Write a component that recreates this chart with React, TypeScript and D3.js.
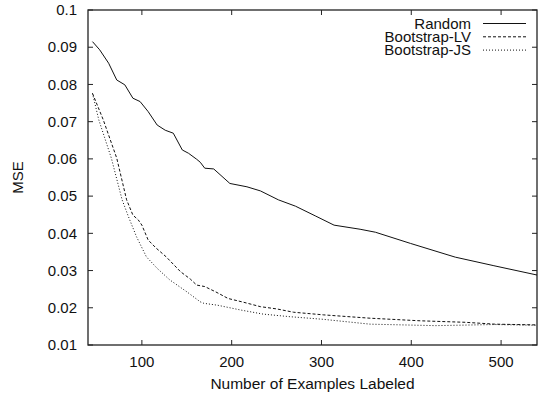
import React from "react";
import * as d3 from "d3";

const xTicks = [100, 200, 300, 400, 500];
const yTicks = [0.01, 0.02, 0.03, 0.04, 0.05, 0.06, 0.07, 0.08, 0.09, 0.1];
const yTickLabels = ["0.01", "0.02", "0.03", "0.04", "0.05", "0.06", "0.07", "0.08", "0.09", "0.1"];

const randomN = [45, 53, 63, 72, 81, 90, 98, 107, 117, 126, 135, 145, 152, 161, 165, 170, 180, 198, 217, 232, 252, 271, 293, 314, 343, 360, 399, 449, 492, 540];
const randomV = [0.0915, 0.0893, 0.0857, 0.0812, 0.0799, 0.0763, 0.0754, 0.0727, 0.0691, 0.0677, 0.0669, 0.0624, 0.0615, 0.0599, 0.0591, 0.0575, 0.0573, 0.0534, 0.0525, 0.0514, 0.049, 0.0473, 0.0447, 0.0422, 0.0411, 0.0403, 0.0373, 0.0336, 0.0313, 0.0288];

const lvN = [45, 57, 72, 83, 90, 96, 100, 107, 116, 127, 143, 154, 161, 170, 182, 196, 213, 232, 250, 269, 302, 354, 410, 460, 493, 540];
const lvV = [0.0776, 0.0705, 0.0602, 0.049, 0.0449, 0.0436, 0.0422, 0.0382, 0.036, 0.0337, 0.0297, 0.0277, 0.0261, 0.0257, 0.0243, 0.0225, 0.0215, 0.0203, 0.0197, 0.0188, 0.0181, 0.0172, 0.0165, 0.0161, 0.0156, 0.0154];

const jsN = [45, 52, 66, 78, 85, 94, 105, 117, 131, 150, 165, 169, 184, 210, 235, 265, 302, 354, 427, 493, 540];
const jsV = [0.0776, 0.0705, 0.0602, 0.049, 0.0445, 0.0391, 0.0337, 0.0306, 0.0275, 0.0243, 0.0216, 0.0212, 0.0207, 0.0194, 0.0183, 0.0176, 0.0169, 0.0156, 0.0152, 0.0155, 0.0153];

const seriesNames = ["Random", "Bootstrap-LV", "Bootstrap-JS"];

const W = 539;
const H = 397;
const L = 88;
const R = 537;
const T = 10;
const B = 345;

export default function App() {
  const x = d3.scaleLinear().domain([40, 540]).range([L, R]);
  const y = d3.scaleLinear().domain([0.01, 0.1]).range([B, T]);
  const line = d3
    .line<[number, number]>()
    .x((d) => x(d[0]))
    .y((d) => y(d[1]));
  const mk = (n: number[], v: number[]) => n.map((d, i) => [d, v[i]] as [number, number]);
  const series = [
    { name: seriesNames[0], pts: mk(randomN, randomV), dash: "none" },
    { name: seriesNames[1], pts: mk(lvN, lvV), dash: "3,2" },
    { name: seriesNames[2], pts: mk(jsN, jsV), dash: "1,2" },
  ];
  const font = "'Liberation Sans', Arial, Helvetica, sans-serif";
  const fs = 15;
  const tick = 5;
  return (
    <svg
      width={W}
      height={H}
      style={{ position: "absolute", left: 0, top: 0, background: "#fff" }}
      fontFamily={font}
    >
      <rect x={0} y={0} width={W} height={H} fill="#fff" />
      {yTicks.map((t, i) => (
        <g key={"y" + i}>
          <line x1={L} x2={L + tick} y1={y(t)} y2={y(t)} stroke="#222" strokeWidth={1} />
          <line x1={R} x2={R - tick} y1={y(t)} y2={y(t)} stroke="#222" strokeWidth={1} />
          <text x={L - 11} y={y(t)} dy="0.35em" textAnchor="end" fontSize={fs} fill="#111">
            {yTickLabels[i]}
          </text>
        </g>
      ))}
      {xTicks.map((t, i) => (
        <g key={"x" + i}>
          <line x1={x(t)} x2={x(t)} y1={B} y2={B - tick} stroke="#222" strokeWidth={1} />
          <line x1={x(t)} x2={x(t)} y1={T} y2={T + tick} stroke="#222" strokeWidth={1} />
          <text x={x(t)} y={367} textAnchor="middle" fontSize={fs} fill="#111">
            {t}
          </text>
        </g>
      ))}
      <rect x={L} y={T} width={R - L} height={B - T} fill="none" stroke="#222" strokeWidth={1.3} />
      {series.map((s) => (
        <path
          key={s.name}
          d={line(s.pts) || ""}
          fill="none"
          stroke="#111"
          strokeWidth={1}
          strokeDasharray={s.dash}
        />
      ))}
      {series.map((s, i) => {
        const ly = 23.5 + i * 13.3;
        return (
          <g key={"lg" + i}>
            <text x={471} y={ly} dy="0.35em" textAnchor="end" fontSize={fs} fill="#111">
              {s.name}
            </text>
            <line x1={483} x2={526} y1={ly} y2={ly} stroke="#111" strokeWidth={1} strokeDasharray={s.dash} />
          </g>
        );
      })}
      <text x={(L + R) / 2} y={389} textAnchor="middle" fontSize={fs + 0.5} fill="#111">
        Number of Examples Labeled
      </text>
      <text
        transform={`translate(23,${(T + B) / 2}) rotate(-90)`}
        textAnchor="middle"
        fontSize={fs}
        fill="#111"
      >
        MSE
      </text>
    </svg>
  );
}
